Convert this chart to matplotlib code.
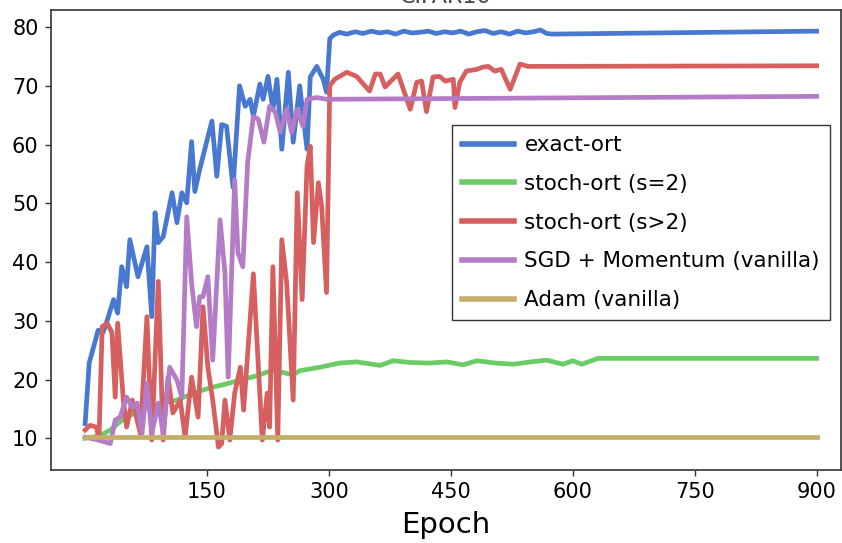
import matplotlib
matplotlib.use("Agg")
import matplotlib.pyplot as plt

# seaborn (old) muted palette
colors = ["#4878CF", "#6ACC65", "#D65F5F", "#B47CC7", "#C4AD66"]
labels = ["exact-ort", "stoch-ort (s=2)", "stoch-ort (s>2)",
          "SGD + Momentum (vanilla)", "Adam (vanilla)"]

# exact-ort
blue_x = [0, 5, 16, 22, 27, 35, 40, 45, 51, 55, 65, 76, 82, 86, 90, 96, 107, 113, 119, 125,
          131, 135, 141, 156, 162, 168, 174, 182, 190, 197, 203, 207, 215, 219, 225, 231, 236,
          242, 250, 256, 264, 273, 277, 285, 293, 297, 301, 305, 313, 322, 332, 342, 352, 362,
          372, 382, 392, 402, 412, 422, 432, 442, 452, 462, 472, 482, 492, 502, 512, 522, 532,
          542, 552, 560, 568, 575, 900]
blue_y = [12.5, 22.8, 28.4, 28.0, 30.0, 33.6, 31.3, 39.2, 35.8, 43.8, 37.5, 42.6, 30.7, 48.4,
          43.3, 44.3, 51.8, 46.7, 51.8, 50.1, 60.5, 52.0, 55.8, 64.0, 54.6, 63.4, 63.1, 52.7,
          70.0, 66.5, 67.7, 64.8, 70.3, 67.7, 71.6, 66.0, 71.1, 59.2, 72.3, 60.4, 70.0, 59.2,
          71.5, 73.3, 71.1, 68.9, 78.0, 78.6, 79.1, 78.8, 79.2, 78.9, 79.3, 79.0, 79.2, 78.8,
          79.3, 79.0, 79.1, 79.3, 78.9, 79.2, 79.0, 79.3, 78.8, 79.2, 79.4, 78.9, 79.2, 78.8,
          79.3, 79.0, 79.2, 79.5, 78.9, 78.8, 79.3]

# stoch-ort (s=2)
green_x = [0, 10, 20, 31, 40, 50, 60, 70, 80, 90, 100, 113, 125, 140, 157, 175, 191, 210, 231,
           240, 256, 264, 289, 313, 334, 363, 379, 400, 424, 445, 465, 482, 505, 527, 548, 568,
           588, 600, 611, 631, 900]
green_y = [10.0, 10.2, 10.6, 11.4, 12.5, 13.5, 14.2, 14.8, 15.3, 15.8, 16.2, 16.5, 17.2, 18.0,
           18.7, 19.3, 19.9, 20.6, 21.6, 21.3, 20.8, 21.5, 22.1, 22.8, 23.0, 22.4, 23.2, 22.9,
           22.8, 23.0, 22.5, 23.2, 22.8, 22.6, 23.0, 23.3, 22.6, 23.2, 22.6, 23.6, 23.6]

# stoch-ort (s>2)
red_x = [0, 6, 14, 17, 21, 27, 33, 37, 40, 47, 51, 58, 68, 76, 82, 90, 96, 102, 108, 117, 123,
         131, 139, 145, 151, 157, 164, 168, 172, 178, 184, 191, 195, 207, 218, 224, 227, 231,
         237, 242, 248, 256, 261, 267, 273, 277, 281, 287, 291, 297, 301, 307, 322, 334, 350,
         357, 363, 369, 385, 400, 408, 414, 420, 428, 436, 443, 453, 455, 461, 469, 482, 490,
         496, 504, 512, 523, 535, 545, 900]
red_y = [11.4, 12.2, 11.9, 9.7, 29.0, 29.6, 28.0, 17.0, 29.6, 16.5, 11.9, 16.5, 10.8, 30.7,
         9.7, 36.7, 9.7, 20.4, 14.3, 16.5, 10.2, 20.4, 13.6, 32.4, 22.1, 16.5, 8.5, 9.1, 16.5,
         9.7, 17.7, 22.1, 14.8, 38.0, 9.7, 17.7, 11.9, 39.2, 9.7, 43.8, 36.4, 16.5, 51.8, 33.6,
         56.3, 59.7, 43.3, 53.5, 49.5, 34.8, 70.0, 71.1, 72.3, 71.6, 69.1, 72.0, 72.0, 69.8,
         72.0, 66.0, 70.6, 70.8, 65.6, 71.5, 71.6, 70.8, 71.1, 66.3, 70.6, 72.5, 72.8, 73.2,
         73.3, 72.5, 72.8, 69.4, 73.7, 73.3, 73.4]

# SGD + Momentum (vanilla)
purple_x = [0, 16, 31, 37, 43, 51, 58, 64, 70, 76, 82, 90, 96, 104, 113, 119, 125, 131, 137,
            141, 145, 151, 157, 166, 172, 176, 184, 188, 194, 200, 207, 213, 220, 227, 234,
            240, 248, 254, 261, 268, 273, 285, 297, 900]
purple_y = [10.2, 9.7, 9.1, 13.1, 13.6, 17.0, 15.3, 16.0, 10.8, 19.4, 10.8, 16.0, 10.8, 22.1,
            19.9, 17.0, 47.7, 36.4, 29.0, 34.1, 34.1, 37.5, 23.3, 47.2, 38.2, 20.4, 54.0, 41.6,
            39.2, 57.0, 64.8, 64.3, 60.4, 66.5, 65.5, 62.1, 66.0, 62.1, 66.0, 63.1, 67.7, 68.0,
            67.7, 68.2]

# Adam (vanilla)
adam_x = [0, 900]
adam_y = [10.3, 10.3]

xticks = [150, 300, 450, 600, 750, 900]
yticks = [10, 20, 30, 40, 50, 60, 70, 80]

fig = plt.figure(figsize=(8.42, 5.43), dpi=100)
ax = fig.add_axes([51 / 842, 1 - 470 / 543, 790 / 842, 460 / 543])

series = [(blue_x, blue_y), (green_x, green_y), (red_x, red_y),
          (purple_x, purple_y), (adam_x, adam_y)]
for (xs, ys), c, lab in zip(series, colors, labels):
    ax.plot(xs, ys, color=c, lw=3.4, label=lab)

ax.set_xlim(-42, 930)
ax.set_ylim(4.6, 82.9)
ax.set_xticks(xticks)
ax.set_yticks(yticks)
ax.tick_params(length=4, width=1, color="#333333", pad=5, labelsize=15)
for s in ax.spines.values():
    s.set_color("#333333")
    s.set_linewidth(1.2)

ax.set_xlabel("Epoch", fontsize=21, labelpad=6)
# title is cropped at the top edge in the original figure
ax.set_title("CIFAR10", fontsize=16, pad=5, color="#444444")

leg = ax.legend(loc="upper left", bbox_to_anchor=(0.508, 0.749), borderaxespad=0,
                fontsize=15.5, frameon=True, fancybox=False, edgecolor="black",
                handlelength=2.4, handletextpad=0.5, labelspacing=0.87, borderpad=0.45)
leg.get_frame().set_linewidth(1.0)
for h in leg.get_lines():
    h.set_linewidth(4)

fig.savefig("out.png", dpi=100)
